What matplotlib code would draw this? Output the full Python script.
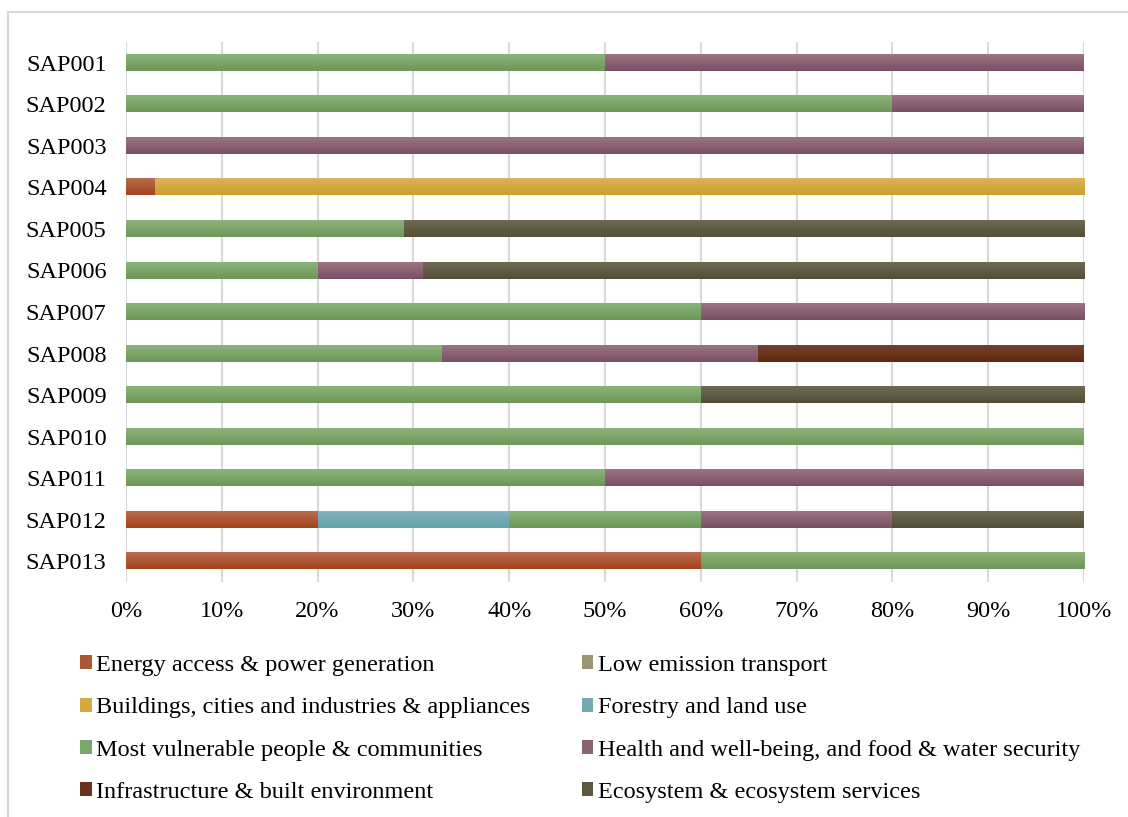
import numpy as np
import matplotlib
matplotlib.use("Agg")
import matplotlib.pyplot as plt
from matplotlib.colors import LinearSegmentedColormap
from matplotlib.patches import Patch
from matplotlib.lines import Line2D

plt.rcParams['font.family'] = ['Liberation Serif', 'DejaVu Serif']

# === Data (share of each project, %) ===
projects = ["SAP001", "SAP002", "SAP003", "SAP004", "SAP005", "SAP006", "SAP007",
            "SAP008", "SAP009", "SAP010", "SAP011", "SAP012", "SAP013"]

energy     = [0, 0, 0, 3, 0, 0, 0, 0, 0, 0, 0, 20, 60]
transport  = [0, 0, 0, 0, 0, 0, 0, 0, 0, 0, 0, 0, 0]
buildings  = [0, 0, 0, 97, 0, 0, 0, 0, 0, 0, 0, 0, 0]
forestry   = [0, 0, 0, 0, 0, 0, 0, 0, 0, 0, 0, 20, 0]
vulnerable = [50, 80, 0, 0, 29, 20, 60, 33, 60, 100, 50, 20, 40]
health     = [50, 20, 100, 0, 0, 11, 40, 33, 0, 0, 50, 20, 0]
infra      = [0, 0, 0, 0, 0, 0, 0, 34, 0, 0, 0, 0, 0]
ecosystem  = [0, 0, 0, 0, 71, 69, 0, 0, 40, 0, 0, 20, 0]

series_names = ["Energy access & power generation",
                "Low emission transport",
                "Buildings, cities and industries & appliances",
                "Forestry and land use",
                "Most vulnerable people & communities",
                "Health and well-being, and food & water security",
                "Infrastructure & built environment",
                "Ecosystem & ecosystem services"]
series_values = [energy, transport, buildings, forestry,
                 vulnerable, health, infra, ecosystem]

# (top, bottom) shades for the vertical gradient of each bar
shades = [("#b86d4e", "#a4441c"),
          ("#a49d7a", "#938a62"),
          ("#dbb557", "#cc9f2e"),
          ("#82b2bd", "#66a0ad"),
          ("#8db37b", "#6c9758"),
          ("#9a7584", "#7b5064"),
          ("#744230", "#62270d"),
          ("#6f6a55", "#544e36")]
legend_colors = ["#ae5632", "#9c9470", "#d4aa40", "#74a9b5",
                 "#7da66a", "#8a6274", "#6a3219", "#5e5842"]

FS = 17.5

# === Figure ===
fig = plt.figure(figsize=(11.28, 8.17), dpi=100)
ax = fig.add_axes([126 / 1128, 1 - 582 / 817, 958 / 1128, 540 / 817])

y = np.arange(len(projects))
bar_h = 0.39
grad = np.linspace(0, 1, 32).reshape(-1, 1)

left = np.zeros(len(projects))
for vals, (top, bot) in zip(series_values, shades):
    vals = np.array(vals, dtype=float)
    cmap = LinearSegmentedColormap.from_list("g", [top, bot])
    bars = ax.barh(y, vals, left=left, height=bar_h, color="none",
                   edgecolor="none", zorder=2)
    for b in bars:
        if b.get_width() <= 0:
            continue
        x0, y0 = b.get_x(), b.get_y()
        x1, y1 = x0 + b.get_width(), y0 + b.get_height()
        # y axis is inverted later, so the first row sits at the top
        ax.imshow(grad, cmap=cmap, aspect="auto", extent=(x0, x1, y1, y0),
                  origin="upper", interpolation="bilinear", zorder=2)
    left += vals

ax.set_xlim(0, 100)
ax.set_ylim(len(projects) - 0.5, -0.5)
ax.set_aspect("auto")
ax.set_yticks(y)
ax.set_yticklabels(projects, fontsize=FS)
ax.set_xticks(np.arange(0, 101, 10))
ax.set_xticklabels([f"{t}%" for t in range(0, 101, 10)], fontsize=FS)
ax.tick_params(length=0)
ax.tick_params(axis="y", pad=14)
ax.tick_params(axis="x", pad=14)
ax.grid(axis="x", color="#d9d9d9", linewidth=1.5, zorder=0)
ax.set_axisbelow(True)
for s in ax.spines.values():
    s.set_visible(False)

# legend laid out row by row, two entries per row
order = [0, 2, 4, 6, 1, 3, 5, 7]
handles = [Patch(facecolor=legend_colors[i], edgecolor="none") for i in order]
labels = [series_names[i] for i in order]
fig.legend(handles, labels, ncol=2, loc="upper left",
           bbox_to_anchor=(58 / 1128, 1 - 633 / 817), frameon=False,
           fontsize=FS, handlelength=0.48, handleheight=0.5,
           handletextpad=0.2, columnspacing=2.1, labelspacing=0.88)

# chart area outline
fig.add_artist(Line2D([8 / 1128, 1], [1 - 12 / 817, 1 - 12 / 817],
                      transform=fig.transFigure, color="#d9d9d9", linewidth=1.5))
fig.add_artist(Line2D([8 / 1128, 8 / 1128], [0, 1 - 12 / 817],
                      transform=fig.transFigure, color="#d9d9d9", linewidth=1.5))

fig.savefig("out.png", dpi=100)
